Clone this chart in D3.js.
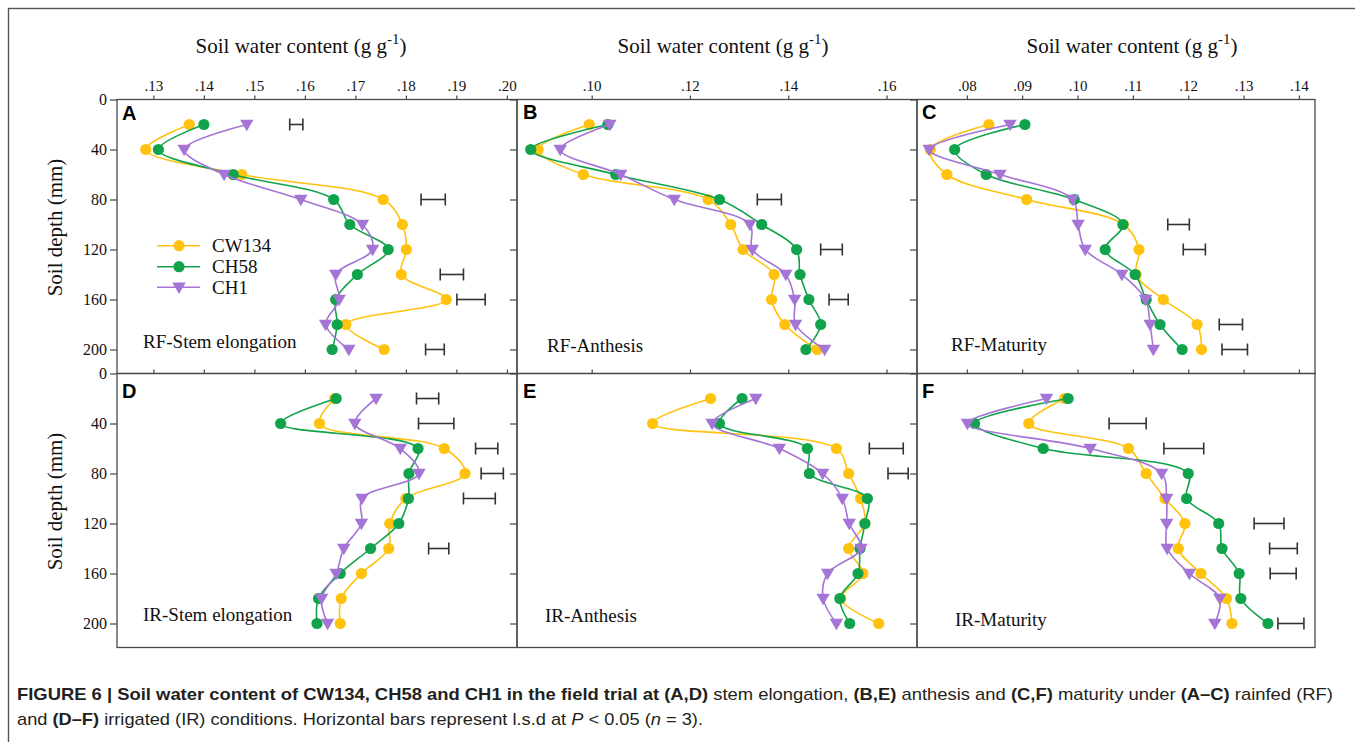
<!DOCTYPE html>
<html><head><meta charset="utf-8">
<script src="https://cdn.jsdelivr.net/npm/d3@7"></script>
<style>body{margin:0;background:#fff} svg{display:block}</style>
</head><body><svg id="c" width="1355" height="742"></svg>
<script>
// ---------------- DATA ----------------
const depths = [20, 40, 60, 80, 100, 120, 140, 160, 180, 200];
const cultivars = ["CW134", "CH58", "CH1"];
const depthTicks = [0, 40, 80, 120, 160, 200];
const ticksStem = [0.13, 0.14, 0.15, 0.16, 0.17, 0.18, 0.19, 0.20];
const ticksAnth = [0.10, 0.12, 0.14, 0.16];
const ticksMat = [0.08, 0.09, 0.10, 0.11, 0.12, 0.13, 0.14];

// A: RF-Stem elongation
const swcA_CW134 = [0.1371, 0.1285, 0.1475, 0.1755, 0.1793, 0.1801, 0.1791, 0.1880, 0.1681, 0.1757];
const swcA_CH58  = [0.1400, 0.1310, 0.1458, 0.1657, 0.1689, 0.1765, 0.1704, 0.1661, 0.1664, 0.1654];
const swcA_CH1   = [0.1485, 0.1361, 0.1440, 0.1592, 0.1714, 0.1734, 0.1661, 0.1668, 0.1641, 0.1687];
const lsdA_depth = [20, 80, 140, 160, 200];
const lsdA_lo    = [0.1570, 0.1830, 0.1868, 0.1901, 0.1839];
const lsdA_hi    = [0.1596, 0.1878, 0.1914, 0.1957, 0.1876];

// B: RF-Anthesis
const swcB_CW134 = [0.0995, 0.0891, 0.0983, 0.1237, 0.1283, 0.1308, 0.1371, 0.1366, 0.1393, 0.1459];
const swcB_CH58  = [0.1033, 0.0876, 0.1049, 0.1260, 0.1346, 0.1417, 0.1424, 0.1442, 0.1466, 0.1436];
const swcB_CH1   = [0.1037, 0.0936, 0.1059, 0.1168, 0.1322, 0.1327, 0.1395, 0.1413, 0.1415, 0.1474];
const lsdB_depth = [80, 120, 160];
const lsdB_lo    = [0.1337, 0.1466, 0.1483];
const lsdB_hi    = [0.1386, 0.1510, 0.1522];

// C: RF-Maturity
const swcC_CW134 = [0.0840, 0.0734, 0.0764, 0.0908, 0.1083, 0.1111, 0.1106, 0.1155, 0.1216, 0.1224];
const swcC_CH58  = [0.0905, 0.0778, 0.0835, 0.0994, 0.1082, 0.1050, 0.1104, 0.1124, 0.1149, 0.1189];
const swcC_CH1   = [0.0878, 0.0732, 0.0860, 0.0991, 0.1001, 0.1014, 0.1080, 0.1123, 0.1131, 0.1137];
const lsdC_depth = [100, 120, 180, 200];
const lsdC_lo    = [0.1163, 0.1191, 0.1256, 0.1261];
const lsdC_hi    = [0.1202, 0.1231, 0.1298, 0.1307];

// D: IR-Stem elongation
const swcD_CW134 = [0.1659, 0.1629, 0.1876, 0.1917, 0.1800, 0.1768, 0.1766, 0.1712, 0.1672, 0.1670];
const swcD_CH58  = [0.1662, 0.1552, 0.1824, 0.1806, 0.1805, 0.1786, 0.1730, 0.1670, 0.1627, 0.1624];
const swcD_CH1   = [0.1741, 0.1699, 0.1789, 0.1826, 0.1713, 0.1712, 0.1677, 0.1662, 0.1633, 0.1645];
const lsdD_depth = [20, 40, 60, 80, 100, 140];
const lsdD_lo    = [0.1821, 0.1825, 0.1938, 0.1949, 0.1914, 0.1845];
const lsdD_hi    = [0.1865, 0.1895, 0.1982, 0.1993, 0.1977, 0.1885];

// E: IR-Anthesis
const swcE_CW134 = [0.1242, 0.1124, 0.1498, 0.1523, 0.1547, 0.1556, 0.1523, 0.1552, 0.1507, 0.1584];
const swcE_CH58  = [0.1306, 0.1260, 0.1439, 0.1443, 0.1561, 0.1556, 0.1546, 0.1542, 0.1505, 0.1525];
const swcE_CH1   = [0.1334, 0.1245, 0.1382, 0.1470, 0.1510, 0.1524, 0.1548, 0.1480, 0.1471, 0.1498];
const lsdE_depth = [60, 80];
const lsdE_lo    = [0.1565, 0.1603];
const lsdE_hi    = [0.1634, 0.1644];

// F: IR-Maturity
const swcF_CW134 = [0.0977, 0.0912, 0.1092, 0.1124, 0.1158, 0.1194, 0.1182, 0.1223, 0.1269, 0.1279];
const swcF_CH58  = [0.0983, 0.0814, 0.0938, 0.1200, 0.1197, 0.1255, 0.1261, 0.1292, 0.1295, 0.1344];
const swcF_CH1   = [0.0944, 0.0801, 0.1023, 0.1152, 0.1161, 0.1161, 0.1162, 0.1202, 0.1257, 0.1248];
const lsdF_depth = [40, 60, 120, 140, 160, 200];
const lsdF_lo    = [0.1057, 0.1156, 0.1319, 0.1347, 0.1348, 0.1362];
const lsdF_hi    = [0.1124, 0.1228, 0.1373, 0.1397, 0.1395, 0.1409];

const panelLetters = ["A", "B", "C", "D", "E", "F"];
const panelNames = ["RF-Stem elongation", "RF-Anthesis", "RF-Maturity",
                    "IR-Stem elongation", "IR-Anthesis", "IR-Maturity"];

// ---------------- LAYOUT ----------------
const colors = ["#FFC20E", "#10A34B", "#A474D6"];
const serif = "'Liberation Serif','Times New Roman',serif";
const sans = "'Liberation Sans',Arial,sans-serif";
const colLeft = [117, 517, 917];
const colWidth = [400, 400, 398];
const rowTop = [99.5, 373.5];
const rowH = 274;
const xDomains = [[0.1228, 0.2020], [0.0848, 0.1662], [0.0710, 0.1429]];
const xTicksByCol = [ticksStem, ticksAnth, ticksMat];
const titleCx = [301, 723, 1132];
const letterPos = [[122, 120], [523, 119], [922, 119], [122, 398], [523, 398], [922, 398]];
const namePos = [[143, 348], [547, 352], [951, 351], [143, 621], [545, 622], [955, 626]];

const panels = [
  {series: [swcA_CW134, swcA_CH58, swcA_CH1], ld: lsdA_depth, lo: lsdA_lo, hi: lsdA_hi},
  {series: [swcB_CW134, swcB_CH58, swcB_CH1], ld: lsdB_depth, lo: lsdB_lo, hi: lsdB_hi},
  {series: [swcC_CW134, swcC_CH58, swcC_CH1], ld: lsdC_depth, lo: lsdC_lo, hi: lsdC_hi},
  {series: [swcD_CW134, swcD_CH58, swcD_CH1], ld: lsdD_depth, lo: lsdD_lo, hi: lsdD_hi},
  {series: [swcE_CW134, swcE_CH58, swcE_CH1], ld: lsdE_depth, lo: lsdE_lo, hi: lsdE_hi},
  {series: [swcF_CW134, swcF_CH58, swcF_CH1], ld: lsdF_depth, lo: lsdF_lo, hi: lsdF_hi}
];

const svg = d3.select("#c");
// outer frame
svg.append("rect").attr("x", 8.5).attr("y", 8.5).attr("width", 1400).attr("height", 800)
  .attr("fill", "none").attr("stroke", "#555").attr("stroke-width", 1.4);

const fmt = v => d3.format(".2f")(v).replace(/^0/, "");
const tri = d3.symbol().type(d3.symbolTriangle).size(78);

panels.forEach((p, i) => {
  const row = Math.floor(i / 3), col = i % 3;
  const L = colLeft[col], T = rowTop[row], W = colWidth[col];
  const x = d3.scaleLinear().domain(xDomains[col]).range([L, L + W]);
  const y = d3.scaleLinear().domain([0, 219.2]).range([T, T + rowH]);
  const g = svg.append("g");

  // top axis
  const ax = g.append("g").attr("transform", `translate(0,${T})`)
    .call(d3.axisTop(x).tickValues(xTicksByCol[col]).tickSize(4).tickPadding(5)
      .tickFormat(row === 0 ? fmt : () => ""));
  ax.select(".domain").remove();
  ax.selectAll("line").attr("stroke", "#444").attr("stroke-width", 1.2);
  ax.selectAll("text").attr("font-family", serif).attr("font-size", 15).attr("fill", "#111");

  // left axis
  const ay = g.append("g").attr("transform", `translate(${L},0)`)
    .call(d3.axisLeft(y).tickValues(depthTicks).tickSize(7).tickPadding(3)
      .tickFormat(col === 0 ? d => d : () => ""));
  ay.select(".domain").remove();
  ay.selectAll("line").attr("stroke", "#444").attr("stroke-width", 1.2);
  ay.selectAll("text").attr("font-family", serif).attr("font-size", 16).attr("fill", "#111");

  // border
  g.append("rect").attr("x", L).attr("y", T).attr("width", W).attr("height", rowH)
    .attr("fill", "none").attr("stroke", "#4a4a4a").attr("stroke-width", 1.3);

  // lsd bars
  p.ld.forEach((d, k) => {
    const yy = y(d), x0 = x(p.lo[k]), x1 = x(p.hi[k]);
    const eb = g.append("g").attr("stroke", "#333").attr("stroke-width", 1.6);
    eb.append("line").attr("x1", x0).attr("x2", x1).attr("y1", yy).attr("y2", yy);
    eb.append("line").attr("x1", x0).attr("x2", x0).attr("y1", yy - 6).attr("y2", yy + 6);
    eb.append("line").attr("x1", x1).attr("x2", x1).attr("y1", yy - 6).attr("y2", yy + 6);
  });

  // series
  const line = d3.line().x(d => x(d.v)).y(d => y(d.d)).curve(d3.curveCatmullRom.alpha(0.5));
  p.series.forEach((vals, s) => {
    const pts = vals.map((v, k) => ({v: v, d: depths[k]}));
    g.append("path").attr("d", line(pts)).attr("fill", "none")
      .attr("stroke", colors[s]).attr("stroke-width", 1.6);
    if (s < 2) {
      g.selectAll(null).data(pts).enter().append("circle")
        .attr("cx", d => x(d.v)).attr("cy", d => y(d.d)).attr("r", 5.6).attr("fill", colors[s]);
    } else {
      g.selectAll(null).data(pts).enter().append("path")
        .attr("d", tri).attr("fill", colors[s])
        .attr("transform", d => `translate(${x(d.v)},${y(d.d) - 1}) rotate(180)`);
    }
  });

  // letters & names
  g.append("text").attr("x", letterPos[i][0]).attr("y", letterPos[i][1]).text(panelLetters[i])
    .attr("font-family", sans).attr("font-weight", "bold").attr("font-size", 20).attr("fill", "#000");
  g.append("text").attr("x", namePos[i][0]).attr("y", namePos[i][1]).text(panelNames[i])
    .attr("font-family", serif).attr("font-size", 19).attr("fill", "#111");

  // titles
  if (row === 0) {
    const t = svg.append("text").attr("x", titleCx[col]).attr("y", 53).attr("text-anchor", "middle")
      .attr("font-family", serif).attr("font-size", 21).attr("fill", "#111");
    t.append("tspan").text("Soil water content (g g");
    t.append("tspan").attr("dy", -9).attr("font-size", 15).text("-1");
    t.append("tspan").attr("dy", 9).text(")");
  }
  if (col === 0) {
    svg.append("text").attr("transform", `translate(62,${T + 128}) rotate(-90)`)
      .attr("text-anchor", "middle").attr("font-family", serif).attr("font-size", 21)
      .attr("fill", "#111").text("Soil depth (mm)");
  }
});

// legend in panel A
const legY = [245.7, 266.7, 287.3];
cultivars.forEach((c, s) => {
  const lg = svg.append("g");
  lg.append("line").attr("x1", 157).attr("x2", 200).attr("y1", legY[s]).attr("y2", legY[s])
    .attr("stroke", colors[s]).attr("stroke-width", 1.6);
  if (s < 2) lg.append("circle").attr("cx", 179).attr("cy", legY[s]).attr("r", 5.6).attr("fill", colors[s]);
  else lg.append("path").attr("d", tri).attr("fill", colors[s])
    .attr("transform", `translate(179,${legY[s] - 1}) rotate(180)`);
  lg.append("text").attr("x", 212).attr("y", legY[s] + 6.5).text(c)
    .attr("font-family", serif).attr("font-size", 19).attr("fill", "#111");
});

// caption
const cap1 = svg.append("text").attr("x", 17).attr("y", 700).attr("font-family", sans)
  .attr("font-size", 17).attr("fill", "#231f20")
  .attr("textLength", 1316).attr("lengthAdjust", "spacingAndGlyphs");
[["FIGURE 6 | Soil water content of CW134, CH58 and CH1 in the field trial at (A,D)", true],
 [" stem elongation, ", false], ["(B,E)", true], [" anthesis and ", false], ["(C,F)", true],
 [" maturity under ", false], ["(A\u2013C)", true], [" rainfed (RF)", false]]
 .forEach(([t, b]) => cap1.append("tspan").attr("font-weight", b ? "bold" : "normal").text(t));
const cap2 = svg.append("text").attr("x", 17).attr("y", 725).attr("font-family", sans)
  .attr("font-size", 17).attr("fill", "#231f20")
  .attr("textLength", 686).attr("lengthAdjust", "spacingAndGlyphs");
[["and ", "n"], ["(D\u2013F)", "b"], [" irrigated (IR) conditions. Horizontal bars represent l.s.d at ", "n"],
 ["P", "i"], [" < 0.05 (", "n"], ["n", "i"], [" = 3).", "n"]]
 .forEach(([t, s]) => cap2.append("tspan").attr("font-weight", s === "b" ? "bold" : "normal")
   .attr("font-style", s === "i" ? "italic" : "normal").text(t));
</script>
</body></html>
